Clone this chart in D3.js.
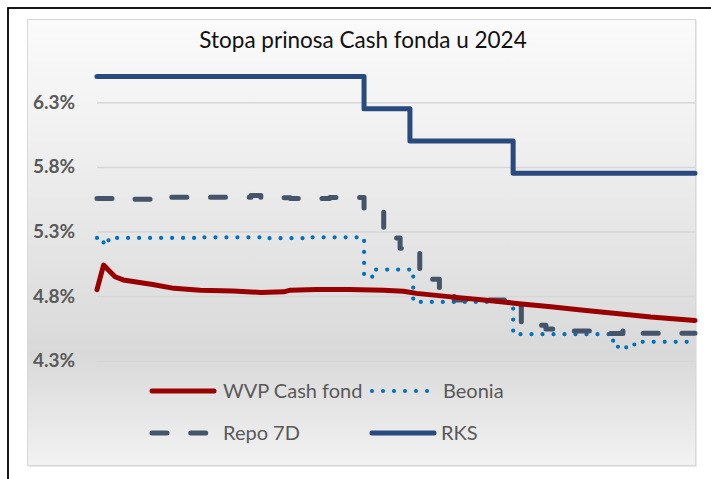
<!DOCTYPE html>
<html><head><meta charset="utf-8">
<script src="https://cdn.jsdelivr.net/npm/d3@7"></script>
<style>html,body{margin:0;padding:0;background:#fff;} svg{display:block;}</style>
</head><body>
<svg id="chart" width="711" height="479"></svg>
<script>
const chartTitle = "Stopa prinosa Cash fonda u 2024";
const yTicks = [4.3, 4.8, 5.3, 5.8, 6.3];
const seriesNames = ["WVP Cash fond", "Beonia", "Repo 7D", "RKS"];

const wvpDates = ["2024-01-01","2024-01-05","2024-01-12","2024-01-17","2024-01-27","2024-02-04","2024-02-17","2024-03-04","2024-03-24","2024-04-10","2024-04-24","2024-04-28","2024-05-14","2024-06-03","2024-06-24","2024-07-06","2024-07-14","2024-08-04","2024-08-24","2024-09-13","2024-10-04","2024-10-24","2024-11-13","2024-12-04","2024-12-31"];
const wvpValues = [4.85,5.04,4.95,4.925,4.905,4.89,4.86,4.846,4.84,4.828,4.833,4.846,4.851,4.851,4.846,4.838,4.821,4.794,4.769,4.743,4.717,4.691,4.666,4.639,4.612];

const beoniaDates = ["2024-01-01","2024-01-05","2024-01-08","2024-03-01","2024-04-15","2024-05-10","2024-06-12","2024-06-19","2024-07-12","2024-09-11","2024-11-09","2024-11-11","2024-11-14","2024-11-19","2024-11-24","2024-12-31"];
const beoniaValues = [5.25,5.20,5.25,5.255,5.248,5.255,4.95,5.005,4.755,4.505,4.47,4.433,4.395,4.425,4.446,4.446];

const repoDates = ["2024-01-01","2024-01-23","2024-02-15","2024-04-04","2024-04-10","2024-04-28","2024-05-22","2024-06-12","2024-06-24","2024-07-04","2024-07-16","2024-07-28","2024-08-06","2024-09-16","2024-10-01","2024-10-14","2024-11-08","2024-11-17","2024-11-24","2024-12-31"];
const repoValues = [5.555,5.55,5.565,5.578,5.562,5.555,5.563,5.45,5.25,5.17,4.93,4.83,4.77,4.575,4.545,4.529,4.51,4.535,4.513,4.513];

const rksDates = ["2024-01-01","2024-06-12","2024-07-10","2024-09-11","2024-12-31"];
const rksValues = [6.5,6.25,6.0,5.75,5.75];

const parse = d3.timeParse("%Y-%m-%d");
const zip = (ds, vs) => ds.map((d, i) => ({date: parse(d), value: vs[i]}));

const series = [
  {name: seriesNames[0], data: zip(wvpDates, wvpValues), color: "#990000", width: 5, dash: null, curve: d3.curveLinear},
  {name: seriesNames[1], data: zip(beoniaDates, beoniaValues), color: "#0070c0", width: 4.2, dash: "0 11", curve: d3.curveStepAfter},
  {name: seriesNames[2], data: zip(repoDates, repoValues), color: "#44546a", width: 5, dash: "15 23.7", curve: d3.curveStepAfter},
  {name: seriesNames[3], data: zip(rksDates, rksValues), color: "#284a7e", width: 5, dash: null, curve: d3.curveStepAfter}
];

const svg = d3.select("#chart");
const font = "Lato, 'Open Sans', sans-serif";

// outer black frame
svg.append("rect").attr("x", 8).attr("y", 8).attr("width", 720).attr("height", 500)
  .attr("fill", "#fff").attr("stroke", "#000").attr("stroke-width", 1.8);

// chart area gradient
const defs = svg.append("defs");
const grad = defs.append("linearGradient").attr("id", "bg").attr("x1", 0).attr("y1", 0).attr("x2", 0).attr("y2", 1);
[[0, "#fafafa"], [0.2, "#f3f3f3"], [0.5, "#e5e5e5"], [0.75, "#d9d9d9"], [1, "#f2f2f2"]]
  .forEach(([o, c]) => grad.append("stop").attr("offset", o).attr("stop-color", c));

svg.append("rect").attr("x", 28.5).attr("y", 20.5).attr("width", 668).attr("height", 446)
  .attr("fill", "#d0d0d0");
svg.append("rect").attr("x", 27.5).attr("y", 19.5).attr("width", 668).attr("height", 446)
  .attr("fill", "url(#bg)").attr("stroke", "#d9d9d9").attr("stroke-width", 1);

// scales
const x = d3.scaleTime().domain([parse("2024-01-01"), parse("2024-12-31")]).range([97, 695]);
const y = d3.scaleLinear().domain([4.3, 6.3]).range([360.7, 102.3]);

// gridlines
const grid = svg.append("g").attr("transform", "translate(97,0)")
  .call(d3.axisLeft(y).tickValues(yTicks).tickSize(-598).tickFormat(""));
grid.select(".domain").remove();
grid.selectAll("line").attr("stroke", "#d6d6d6").attr("stroke-width", 1.5);

// y axis labels
const yAxis = svg.append("g").attr("transform", "translate(97,0)")
  .call(d3.axisLeft(y).tickValues(yTicks).tickSize(0).tickPadding(22).tickFormat(d => d.toFixed(1) + "%"));
yAxis.select(".domain").remove();
yAxis.selectAll("text").attr("font-family", font).attr("font-weight", "bold")
  .attr("font-size", 19).attr("fill", "#595959");

// title
svg.append("text").attr("x", 363).attr("y", 48).attr("text-anchor", "middle")
  .attr("font-family", font).attr("font-size", 22.5).attr("fill", "#111").text(chartTitle);

// lines
const order = [1, 2, 0, 3];
order.forEach(i => {
  const s = series[i];
  const line = d3.line().x(d => x(d.date)).y(d => y(d.value)).curve(s.curve);
  svg.append("path").datum(s.data).attr("d", line)
    .attr("fill", "none").attr("stroke", s.color).attr("stroke-width", s.width)
    .attr("stroke-linecap", "round").attr("stroke-linejoin", "round")
    .attr("stroke-dasharray", s.dash);
});

// legend
const legendPos = [
  {lx1: 152, lx2: 214, tx: 223, y: 391},
  {lx1: 372, lx2: 428, tx: 443, y: 391},
  {lx1: 152, lx2: 209, tx: 223, y: 433},
  {lx1: 372, lx2: 434, tx: 441, y: 433}
];
series.forEach((s, i) => {
  const p = legendPos[i];
  svg.append("line").attr("x1", p.lx1).attr("x2", p.lx2).attr("y1", p.y).attr("y2", p.y)
    .attr("stroke", s.color).attr("stroke-width", s.width).attr("stroke-linecap", "round")
    .attr("stroke-dasharray", s.dash);
  svg.append("text").attr("x", p.tx).attr("y", p.y).attr("dy", "0.35em")
    .attr("font-family", font).attr("font-size", 20).attr("fill", "#595959").text(s.name);
});
</script>
</body></html>
